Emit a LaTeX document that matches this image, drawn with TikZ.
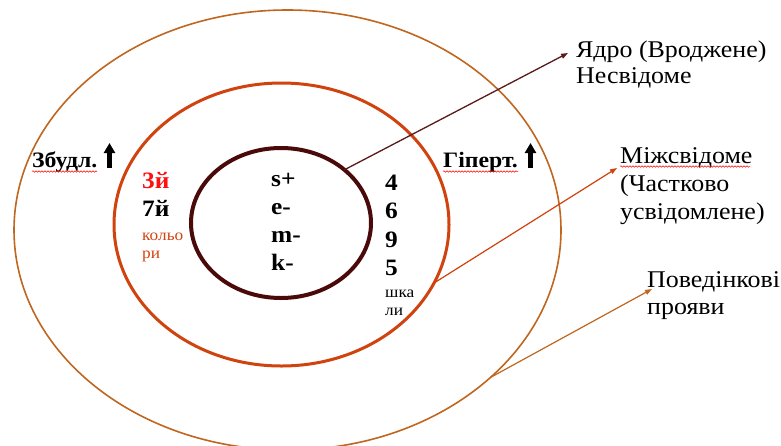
\documentclass[tikz,border=0pt]{standalone}
\usepackage{fontspec}
\setmainfont[FakeStretch=1.08]{Liberation Serif}
\usetikzlibrary{shapes.geometric,arrows.meta,decorations.pathmorphing}
\definecolor{outerc}{HTML}{C0661E}
\definecolor{midc}{HTML}{D0420E}
\definecolor{innc}{HTML}{4B0A0A}
\definecolor{arrc}{HTML}{5B1A1A}
\definecolor{redc}{HTML}{FF1010}
\begin{document}
\begin{tikzpicture}[x=1pt,y=-1pt,
  ring/.style={ellipse, inner sep=0pt, outer sep=0pt},
  lbl/.style={anchor=base west, inner sep=0pt, font=\fontsize{24}{28}\selectfont},
  bld/.style={anchor=base west, inner sep=0pt, font=\bfseries\fontsize{22}{26}\selectfont},
  bldb/.style={anchor=base west, inner sep=0pt, font=\bfseries\fontsize{23.5}{27}\selectfont},
  sml/.style={anchor=base west, inner sep=0pt, font=\fontsize{16}{19}\selectfont},
  conn/.style={line width=1.3pt, -{Triangle[length=7pt,width=5pt]}},
  uparr/.style={line width=4.5pt, -{Triangle[length=10pt,width=11pt]}},
  squig/.style={red, line width=0.5pt, decorate, decoration={snake, amplitude=0.8pt, segment length=3pt}}
]
\useasboundingbox (0,0) rectangle (781,445);
\clip (0,0) rectangle (781,445);

% rings
\node[ring, draw=outerc, line width=1.6pt, minimum width=547pt, minimum height=440pt] (outer) at (287.5,230) {};
\node[ring, draw=midc, line width=3pt, minimum width=335pt, minimum height=283pt] (mid) at (281.5,224.5) {};
\node[ring, draw=innc, line width=4pt, minimum width=180pt, minimum height=150pt] (inner) at (281,223) {};

% right labels
\node[lbl] (ya1) at (576,57) {Ядро (Вроджене)};
\node[lbl] (ya2) at (576,83) {Несвідоме};
\node[lbl] (mz1) at (620,163) {Міжсвідоме};
\node[lbl] (mz2) at (620,191) {(Частково};
\node[lbl] (mz3) at (620,219) {усвідомлене)};
\node[lbl] (pv1) at (647,287) {Поведінкові};
\node[lbl] (pv2) at (647,314) {прояви};

% arrow tips
\coordinate (tipA) at (568,53);
\coordinate (tipB) at (617,168);
\coordinate (tipC) at (652,289);

\draw[conn, draw=arrc, fill=arrc] (inner.40.6) -- (tipA);
\draw[conn, draw=midc, fill=midc, line width=1.2pt] (mid.-21) -- (tipB);
\draw[conn, draw=outerc, fill=outerc, line width=1.2pt] (outer.-36.3) -- (tipC);

% left / right bold labels with up arrows
\node[bld] (zb) at (32,167) {Збудл.};
\coordinate (zbA) at (109.5,168);
\coordinate (zbB) at (109.5,143);
\draw[uparr] (zbA) -- (zbB);
\draw[squig] (32,171.5) -- (97,171.5);

\node[bld] (hp) at (443,167) {Гіперт.};
\coordinate (hpA) at (530.5,168);
\coordinate (hpB) at (530.5,143);
\draw[uparr] (hpA) -- (hpB);
\draw[squig] (443,171.5) -- (518,171.5);

\draw[squig] (620,166.5) -- (750,166.5);

% left column in middle ring
\node[bldb, text=redc] (c3) at (142,188) {3й};
\node[bldb] (c7) at (142,216) {7й};
\node[sml, text=midc] (k1) at (142,240) {кольо};
\node[sml, text=midc] (k2) at (142,258) {ри};

% core letters
\node[bldb] (s) at (271,186) {s+};
\node[bldb] (e) at (271,214) {e-};
\node[bldb] (m) at (271,242) {m-};
\node[bldb] (k) at (271,270) {k-};

% numbers
\node[bldb] (n4) at (385,190) {4};
\node[bldb] (n6) at (385,218) {6};
\node[bldb] (n9) at (385,247) {9};
\node[bldb] (n5) at (385,275) {5};
\node[sml] (sh1) at (385,297) {шка};
\node[sml] (sh2) at (385,315) {ли};
\end{tikzpicture}
\end{document}
